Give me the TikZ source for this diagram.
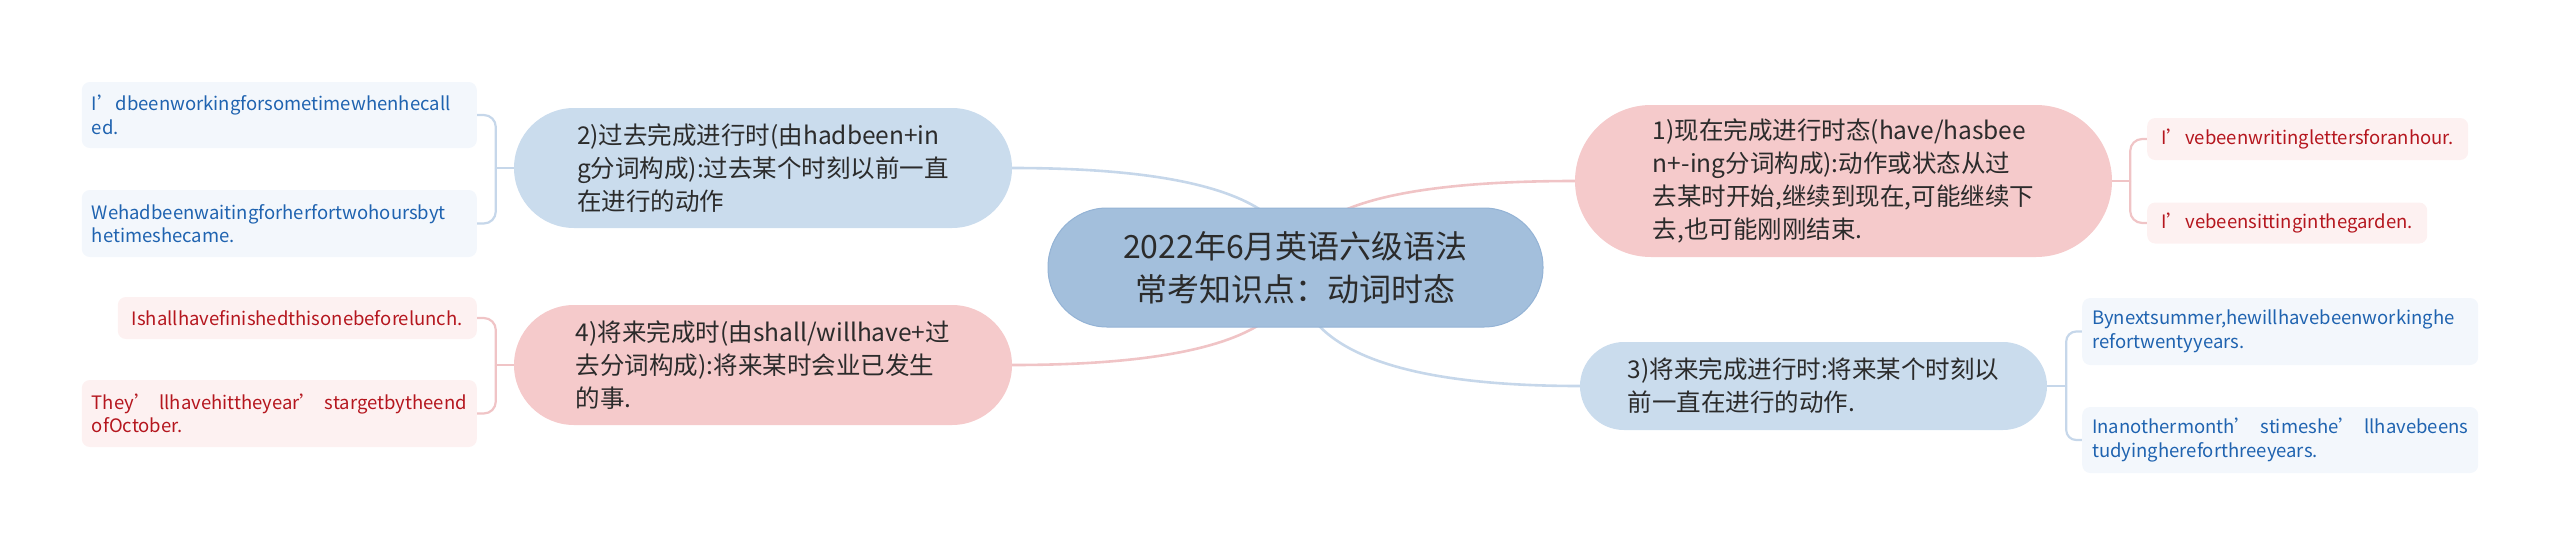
\documentclass[tikz,border=0pt]{standalone}
\usepackage{fontspec}
\setmainfont{Noto Sans CJK SC}
\usetikzlibrary{calc}
\pgfdeclarelayer{bg}
\pgfsetlayers{bg,main}
\definecolor{cfill}{HTML}{A3BFDC}
\definecolor{cdraw}{HTML}{94B3D5}
\definecolor{bfill}{HTML}{CADCED}
\definecolor{pfill}{HTML}{F5CACB}
\definecolor{bline}{HTML}{C6D7EA}
\definecolor{pline}{HTML}{F0C4C6}
\definecolor{bleaf}{HTML}{F3F7FC}
\definecolor{pleaf}{HTML}{FDF1F1}
\definecolor{btext}{HTML}{1F63B0}
\definecolor{ptext}{HTML}{B5161E}
\definecolor{dtext}{HTML}{2B2B2B}
\begin{document}
\begin{tikzpicture}[x=1pt,y=-1pt,
  centerbox/.style={fill=cfill,draw=cdraw,line width=1pt,rounded corners=59pt,minimum width=495pt,minimum height=119pt,text=dtext,align=center,font=\fontsize{32}{43}\selectfont,inner sep=0pt},
  branchbox/.style={rounded corners=#1,align=left,text=dtext,font=\fontsize{24.5}{33}\selectfont,inner sep=0pt},
  bluebranch/.style={branchbox=#1,fill=bfill},
  pinkbranch/.style={branchbox=#1,fill=pfill},
  leafbox/.style={rounded corners=8pt,inner xsep=10pt,inner ysep=0pt,align=left,font=\fontsize{18.5}{23.5}\selectfont},
  blueleaf/.style={leafbox,fill=bleaf,text=btext},
  pinkleaf/.style={leafbox,fill=pleaf,text=ptext},
  bconn/.style={draw=bline,line width=2.2pt},
  pconn/.style={draw=pline,line width=2.2pt},
]
\useasboundingbox (0,0) rectangle (2560,555);

% central
\node[centerbox] (c) at (1295.5,267.5) {2022年6月英语六级语法\\常考知识点：动词时态};

% branches
\node[bluebranch=60pt,minimum width=498pt,minimum height=120pt] (b2) at (763,168)
  {2)过去完成进行时(由hadbeen+in\\g分词构成):过去某个时刻以前一直\\在进行的动作};
\node[pinkbranch=60pt,minimum width=498pt,minimum height=120pt] (b4) at (763,365)
  {4)将来完成时(由shall/willhave+过\\去分词构成):将来某时会业已发生\\的事.};
\node[pinkbranch=76pt,minimum width=537pt,minimum height=152pt] (b1) at (1843.5,181)
  {1)现在完成进行时态(have/hasbee\\n+-ing分词构成):动作或状态从过\\去某时开始,继续到现在,可能继续下\\去,也可能刚刚结束.};
\node[bluebranch=44pt,minimum width=467pt,minimum height=88pt] (b3) at (1813.5,386)
  {3)将来完成进行时:将来某个时刻以\\前一直在进行的动作.};

% leaves left
\node[blueleaf,text width=375pt,minimum height=66pt,anchor=east] (l2a) at (477,115)
  {I’dbeenworkingforsometimewhenhecall\\ed.};
\node[blueleaf,text width=375pt,minimum height=67pt,anchor=east] (l2b) at (477,223.5)
  {Wehadbeenwaitingforherfortwohoursbyt\\hetimeshecame.};
\node[pinkleaf,minimum width=359pt,minimum height=42pt,anchor=east] (l4a) at (477,318)
  {Ishallhavefinishedthisonebeforelunch.};
\node[pinkleaf,text width=375pt,minimum height=67pt,anchor=east] (l4b) at (477,413.5)
  {\hbox to 375pt{They’\hfil llhavehittheyear’\hfil stargetbytheend}\\ofOctober.};

% leaves right
\node[pinkleaf,minimum width=321pt,minimum height=42pt,anchor=west] (r1a) at (2147,139)
  {I’vebeenwritinglettersforanhour.};
\node[pinkleaf,minimum width=280pt,minimum height=41pt,anchor=west] (r1b) at (2147,223)
  {I’vebeensittinginthegarden.};
\node[blueleaf,text width=376pt,minimum height=67pt,anchor=west] (r3a) at (2082,331.5)
  {Bynextsummer,hewillhavebeenworkinghe\\refortwentyyears.};
\node[blueleaf,text width=376pt,minimum height=66pt,anchor=west] (r3b) at (2082,440)
  {\hbox to 376pt{Inanothermonth’\hfil stimeshe’\hfil llhavebeens}\\tudyinghereforthreeyears.};

\begin{pgfonlayer}{bg}
  % central curves
  \coordinate (k2) at (c.center |- b2.east);
  \coordinate (k4) at (c.center |- b4.east);
  \coordinate (k1) at (c.center |- b1.west);
  \coordinate (k3) at (c.center |- b3.west);
  \draw[bconn,line width=2.6pt] (c.center) .. controls ($(c.center)!0.667!(k2)$) and ($(b2.east)!0.667!(k2)$) .. (b2.east);
  \draw[pconn,line width=2.6pt] (c.center) .. controls ($(c.center)!0.667!(k4)$) and ($(b4.east)!0.667!(k4)$) .. (b4.east);
  \draw[pconn,line width=2.6pt] (c.center) .. controls ($(c.center)!0.667!(k1)$) and ($(b1.west)!0.667!(k1)$) .. (b1.west);
  \draw[bconn,line width=2.6pt] (c.center) .. controls ($(c.center)!0.667!(k3)$) and ($(b3.west)!0.667!(k3)$) .. (b3.west);
  % brackets
  \coordinate (j2) at ($(b2.west)+(-18,0)$);
  \coordinate (j4) at ($(b4.west)+(-18,0)$);
  \coordinate (j1) at ($(b1.east)+(18,0)$);
  \coordinate (j3) at ($(b3.east)+(19,0)$);
  \draw[bconn] (b2.west) -- (j2);
  \draw[bconn,rounded corners=12pt] (j2) |- (l2a.east);
  \draw[bconn,rounded corners=12pt] (j2) |- (l2b.east);
  \draw[pconn] (b4.west) -- (j4);
  \draw[pconn,rounded corners=12pt] (j4) |- (l4a.east);
  \draw[pconn,rounded corners=12pt] (j4) |- (l4b.east);
  \draw[pconn] (b1.east) -- (j1);
  \draw[pconn,rounded corners=12pt] (j1) |- (r1a.west);
  \draw[pconn,rounded corners=12pt] (j1) |- (r1b.west);
  \draw[bconn] (b3.east) -- (j3);
  \draw[bconn,rounded corners=10pt] (j3) |- (r3a.west);
  \draw[bconn,rounded corners=10pt] (j3) |- (r3b.west);
\end{pgfonlayer}
\end{tikzpicture}
\end{document}
